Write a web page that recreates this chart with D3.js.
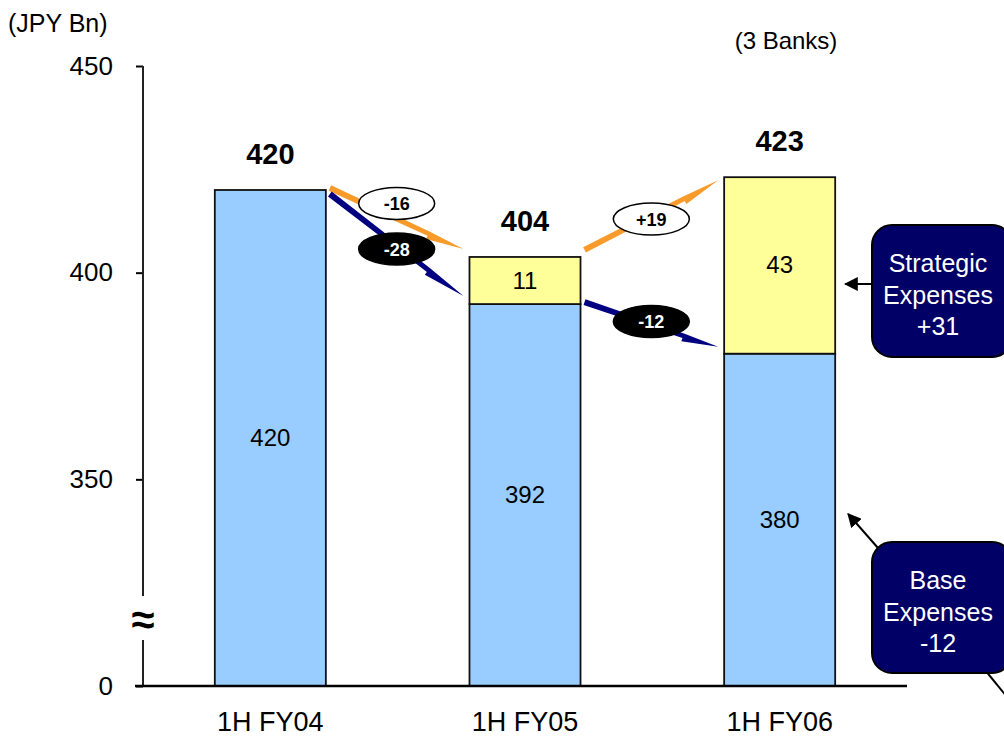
<!DOCTYPE html>
<html>
<head>
<meta charset="utf-8">
<script src="https://cdn.jsdelivr.net/npm/d3@7"></script>
<style>
  html, body { margin: 0; padding: 0; background: #fff; }
  svg { display: block; font-family: "Liberation Sans", Arial, sans-serif; }
</style>
</head>
<body>
<svg id="chart" width="1004" height="736"></svg>
<script>
// Expense breakdown, first half of each fiscal year (JPY Bn, 3 banks)
const categories = ["1H FY04", "1H FY05", "1H FY06"];
const baseExpenses = [420.0, 392.4, 380.4];
const strategicExpenses = [0, 11.4, 42.7];
const tickValues = [300, 350, 400, 450];
const tickLabels = ["0", "350", "400", "450"];
const unitLabel = "(JPY Bn)";
const scopeLabel = "(3 Banks)";

const totals = baseExpenses.map((b, i) => b + strategicExpenses[i]);
const fmtSigned = v => (Math.round(v) > 0 ? "+" : "") + Math.round(v);

const svg = d3.select("#chart");

const x = d3.scaleBand()
  .domain(categories)
  .range([143, 907])
  .paddingInner(0.564)
  .paddingOuter(0.282);
const y = d3.scaleLinear().domain([300, 450]).range([686, 66]);
const bw = x.bandwidth();

const BLUE = "#99CCFF", YELLOW = "#FFFF99", NAVY = "#000080", ORANGE = "#F99B2B", BOX = "#000066";

// ---- Y axis (broken between 0 and 350) ----
const yAxis = d3.axisLeft(y)
  .tickValues(tickValues)
  .tickFormat((d, i) => tickLabels[i])
  .tickSize(7)
  .tickPadding(23);
const gy = svg.append("g").attr("transform", "translate(143,0)").call(yAxis);
gy.select(".domain").remove();
gy.selectAll(".tick line").attr("stroke", "#000").attr("stroke-width", 2);
gy.selectAll(".tick text")
  .attr("font-size", 26).attr("fill", "#000")
  .attr("font-family", "Liberation Sans, Arial, sans-serif");

// axis spine with a gap for the break marker
const breakTop = 596, breakBottom = 640;
svg.append("line").attr("x1", 143).attr("x2", 143)
  .attr("y1", y(450)).attr("y2", breakTop)
  .attr("stroke", "#222").attr("stroke-width", 2);
svg.append("line").attr("x1", 143).attr("x2", 143)
  .attr("y1", breakBottom).attr("y2", y(300))
  .attr("stroke", "#222").attr("stroke-width", 2);
svg.append("text").attr("x", 143).attr("y", 634)
  .attr("text-anchor", "middle").attr("font-size", 42).attr("font-weight", "bold")
  .text("≈");

svg.append("text").attr("x", 8).attr("y", 32)
  .attr("font-size", 25).text(unitLabel);
svg.append("text").attr("x", 786).attr("y", 49)
  .attr("text-anchor", "middle").attr("font-size", 24).text(scopeLabel);

// ---- Bars ----
const bars = svg.append("g");
categories.forEach((c, i) => {
  bars.append("rect")
    .attr("x", x(c)).attr("width", bw)
    .attr("y", y(baseExpenses[i])).attr("height", y(300) - y(baseExpenses[i]))
    .attr("fill", BLUE).attr("stroke", "#111").attr("stroke-width", 1.8);
  if (strategicExpenses[i] > 0) {
    bars.append("rect")
      .attr("x", x(c)).attr("width", bw)
      .attr("y", y(totals[i])).attr("height", y(baseExpenses[i]) - y(totals[i]))
      .attr("fill", YELLOW).attr("stroke", "#111").attr("stroke-width", 1.8);
    bars.append("text")
      .attr("x", x(c) + bw / 2)
      .attr("y", (y(totals[i]) + y(baseExpenses[i])) / 2 + 8)
      .attr("text-anchor", "middle").attr("font-size", 24)
      .text(Math.round(strategicExpenses[i]));
  }
  bars.append("text")
    .attr("x", x(c) + bw / 2)
    .attr("y", (y(baseExpenses[i]) + y(300)) / 2 + 8)
    .attr("text-anchor", "middle").attr("font-size", 24)
    .text(Math.round(baseExpenses[i]));
  bars.append("text")
    .attr("x", x(c) + bw / 2)
    .attr("y", y(totals[i]) - 26)
    .attr("text-anchor", "middle").attr("font-size", 29).attr("font-weight", "bold")
    .text(Math.round(totals[i]));
});

// ---- X axis baseline and category labels ----
svg.append("line").attr("x1", 135).attr("x2", 907)
  .attr("y1", y(300)).attr("y2", y(300))
  .attr("stroke", "#000").attr("stroke-width", 2.5);
categories.forEach(c => {
  svg.append("text")
    .attr("x", x(c) + bw / 2).attr("y", 731)
    .attr("text-anchor", "middle").attr("font-size", 27)
    .text(c);
});

// ---- Change arrows between bars ----
function arrowPath(x0, y0, x1, y1) {
  const dx = x1 - x0, dy = y1 - y0, L = Math.hypot(dx, dy);
  const ux = dx / L, uy = dy / L, nx = -uy, ny = ux;
  const sw = 3, hw = 6.5, hl = L * 0.26;
  const bx = x1 - ux * hl, by = y1 - uy * hl;
  const pts = [
    [x0 + nx * sw, y0 + ny * sw],
    [bx + nx * sw, by + ny * sw],
    [bx + nx * hw, by + ny * hw],
    [x1, y1],
    [bx - nx * 1.8, by - ny * 1.8],
    [x0 - nx * sw, y0 - ny * sw]
  ];
  return "M" + pts.map(p => p.join(",")).join("L") + "Z";
}

const arrows = svg.append("g");
function changeArrow(i, v0, v1, color, dy0, dy1, labelDy, dark) {
  const x0 = x(categories[i]) + bw + 4;
  const x1 = x(categories[i + 1]) - 6;
  const y0 = y(v0) + dy0, y1 = y(v1) + dy1;
  arrows.append("path").attr("d", arrowPath(x0, y0, x1, y1)).attr("fill", color);
  const cx = (x0 + x1) / 2, cy = (y0 + y1) / 2 + labelDy;
  arrows.append("ellipse").attr("cx", cx).attr("cy", cy).attr("rx", 38).attr("ry", 16)
    .attr("fill", dark ? "#000" : "#fff").attr("stroke", "#000").attr("stroke-width", 1.5);
  arrows.append("text").attr("x", cx).attr("y", cy + 6.5)
    .attr("text-anchor", "middle").attr("font-size", 18).attr("font-weight", "bold")
    .attr("fill", dark ? "#fff" : "#000")
    .text(fmtSigned(Math.round(v1) - Math.round(v0)));
}
// totals (orange) and base expenses (navy)
changeArrow(0, totals[0], totals[1], ORANGE, -2, -8, -15, false);
changeArrow(0, baseExpenses[0], baseExpenses[1], NAVY, 4, -8, 4, true);
changeArrow(1, totals[1], totals[2], ORANGE, -7, 3, 4, false);
changeArrow(1, baseExpenses[1], baseExpenses[2], NAVY, -2, -7, -3, true);

// ---- Callout boxes ----
const defs = svg.append("defs");
defs.append("marker").attr("id", "head").attr("viewBox", "0 0 10 10")
  .attr("refX", 9).attr("refY", 5).attr("markerWidth", 7).attr("markerHeight", 7)
  .attr("orient", "auto")
  .append("path").attr("d", "M0,0L10,5L0,10Z").attr("fill", "#000");

const stratChange = strategicExpenses[2] - strategicExpenses[1];
const baseChange = baseExpenses[2] - baseExpenses[1];
const callouts = [
  { y: 225, h: 132, lines: ["Strategic", "Expenses", fmtSigned(stratChange)] },
  { y: 542, h: 131, lines: ["Base", "Expenses", fmtSigned(baseChange)] }
];
const right = x(categories[2]) + bw;

// pointer lines
svg.append("line").attr("x1", 872).attr("y1", 284).attr("x2", right + 10).attr("y2", 284)
  .attr("stroke", "#000").attr("stroke-width", 2).attr("marker-end", "url(#head)");
svg.append("line").attr("x1", 878).attr("y1", 548).attr("x2", right + 13).attr("y2", 514)
  .attr("stroke", "#000").attr("stroke-width", 2).attr("marker-end", "url(#head)");
svg.append("line").attr("x1", 985).attr("y1", 670).attr("x2", 1030).attr("y2", 725)
  .attr("stroke", "#000").attr("stroke-width", 2);

callouts.forEach(b => {
  svg.append("rect").attr("x", 872).attr("y", b.y).attr("width", 140).attr("height", b.h)
    .attr("rx", 20).attr("ry", 20)
    .attr("fill", BOX).attr("stroke", "#000").attr("stroke-width", 2);
  b.lines.forEach((t, k) => {
    svg.append("text").attr("x", 938).attr("y", b.y + 47 + k * 31.5)
      .attr("text-anchor", "middle").attr("font-size", 25).attr("fill", "#fff")
      .text(t);
  });
});
</script>
</body>
</html>
